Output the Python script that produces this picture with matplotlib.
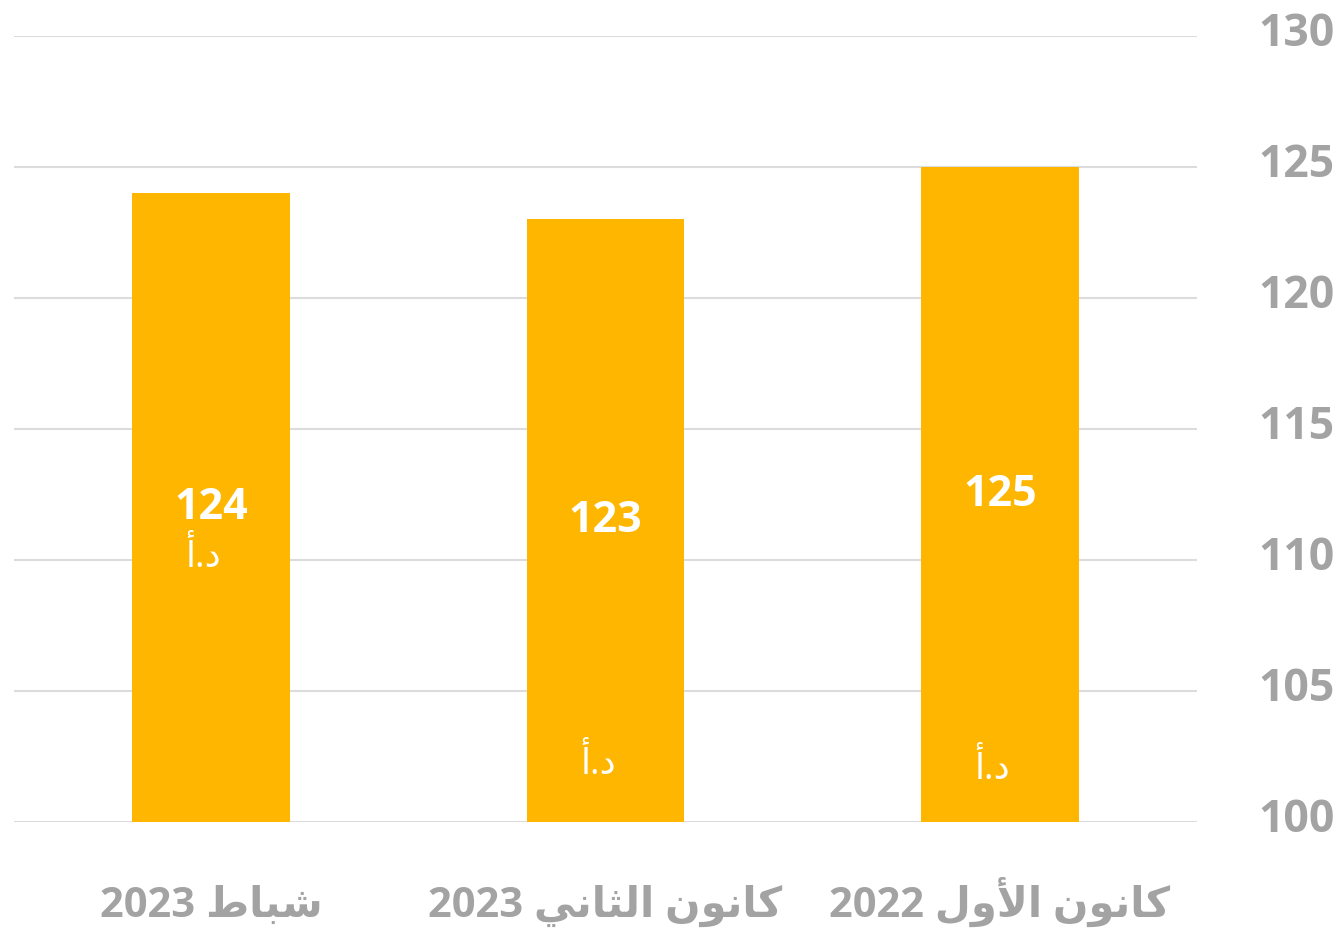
import numpy as np
import matplotlib.pyplot as plt
import matplotlib.transforms as mtrans

# Arabic labels written in presentation forms, visual (left-to-right) order,
# since matplotlib does no shaping / bidi on its own
# logical: شباط 2023 | كانون الثاني 2023 | كانون الأول 2022
categories = ['2023 \uFEC1\uFE8E\uFE92\uFEB7',
              '2023 \uFEF2\uFEE7\uFE8E\uFE9C\uFEDF\uFE8D \uFEE5\uFEEE\uFEE7\uFE8E\uFEDB',
              '2022 \uFEDD\uFEED\uFEF7\uFE8D \uFEE5\uFEEE\uFEE7\uFE8E\uFEDB']
values = [124, 123, 125]
unit = '\uFE83.\uFEA9'  # د.أ
yticks = [100, 105, 110, 115, 120, 125, 130]

# where the currency tag sits inside each bar (data units)
unit_y = [110.1, 102.2, 102.0]

bar_color = '#FEB600'
grid_color = '#DCDCDC'
text_grey = '#A3A3A3'
fam = ['Open Sans', 'DejaVu Sans']

fig = plt.figure(figsize=(13.4, 9.36), dpi=100)
ax = fig.add_axes([0.0104, 0.1218, 0.8829, 0.8397])

x = np.arange(len(values))
ax.bar(x, np.array(values) - 100, bottom=100, width=0.4, color=bar_color, zorder=3)

for xi, v, uy in zip(x, values, unit_y):
    ax.text(xi, (100 + v) / 2, str(v), ha='center', va='center', color='white',
            fontsize=31, fontweight='bold', family=fam, zorder=4)
    ax.text(xi - 0.02, uy, unit, ha='center', va='center', color='white',
            fontsize=26, family=fam, zorder=4)

ax.set_xlim(-0.5, 2.5)
ax.set_ylim(100, 130)
ax.set_yticks(yticks)
ax.yaxis.tick_right()
ax.grid(axis='y', color=grid_color, linewidth=1.5, zorder=0)
for s in ax.spines.values():
    s.set_visible(False)
ax.tick_params(axis='both', length=0)
ax.tick_params(axis='y', pad=44, labelsize=32, labelcolor=text_grey)
ax.tick_params(axis='x', pad=68, labelsize=30, labelcolor=text_grey)
ax.set_xticks(x)
ax.set_xticklabels(categories, family=fam, fontweight='bold', va='baseline')

lift = mtrans.ScaledTranslation(0, 7 / 100, fig.dpi_scale_trans)
for t in ax.get_yticklabels():
    t.set_family(fam)
    t.set_fontweight('bold')
    t.set_transform(t.get_transform() + lift)

fig.savefig('out.png', dpi=100)
